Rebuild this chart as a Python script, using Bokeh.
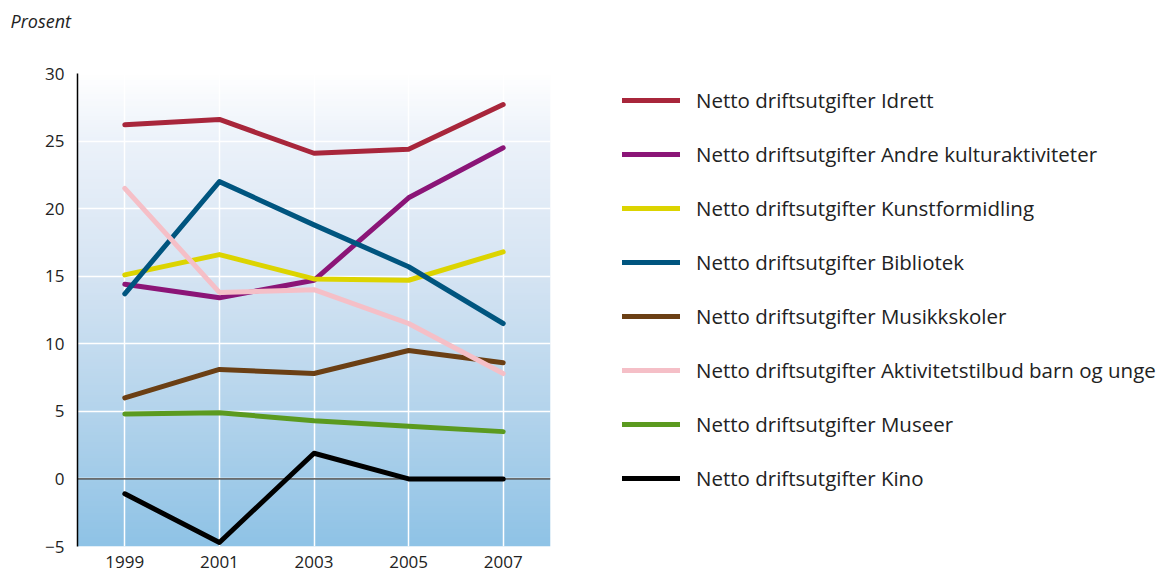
import numpy as np
from bokeh.plotting import figure
from bokeh.models import Legend, LegendItem, Span, Label, FixedTicker
from bokeh.embed import file_html
from bokeh.resources import INLINE

years = [1999, 2001, 2003, 2005, 2007]
idrett = [26.2, 26.6, 24.1, 24.4, 27.7]
andre = [14.4, 13.4, 14.7, 20.8, 24.5]
kunst = [15.1, 16.6, 14.8, 14.7, 16.8]
bibliotek = [13.7, 22.0, 18.8, 15.7, 11.5]
musikk = [6.0, 8.1, 7.8, 9.5, 8.6]
aktivitet = [21.5, 13.8, 14.0, 11.5, 7.8]
museer = [4.8, 4.9, 4.3, 3.9, 3.5]
kino = [-1.1, -4.7, 1.9, 0.0, 0.0]

labels = [
    "Netto driftsutgifter Idrett",
    "Netto driftsutgifter Andre kulturaktiviteter",
    "Netto driftsutgifter Kunstformidling",
    "Netto driftsutgifter Bibliotek",
    "Netto driftsutgifter Musikkskoler",
    "Netto driftsutgifter Aktivitetstilbud barn og unge",
    "Netto driftsutgifter Museer",
    "Netto driftsutgifter Kino",
]
series = [idrett, andre, kunst, bibliotek, musikk, aktivitet, museer, kino]
colors = ["#a8263b", "#8b1577", "#dcd400", "#00557f", "#6b3f14", "#f5bfc7", "#5b9a1f", "#000000"]
y_ticks = [-5, 0, 5, 10, 15, 20, 25, 30]
x_ticks = [1999, 2001, 2003, 2005, 2007]

FONT = "Open Sans"

p = figure(frame_width=473, frame_height=473, x_range=(1998, 2008), y_range=(-5, 30),
           output_backend="svg", toolbar_location=None,
           min_border_left=77, min_border_top=73, min_border_right=0, min_border_bottom=27)
p.outline_line_color = None
p.background_fill_color = "white"
p.border_fill_color = "white"

# vertical gradient background
n = 200
stops_v = [30, 25, 15, 5, -5]
stops_c = [(255, 255, 255), (236, 242, 250), (213, 228, 243), (180, 212, 236), (143, 195, 230)]
vals = np.linspace(-5, 30, n)
img = np.zeros((n, 1), dtype=np.uint32)
view = img.view(dtype=np.uint8).reshape((n, 1, 4))
for ch in range(3):
    view[:, 0, ch] = np.interp(vals, stops_v[::-1], [c[ch] for c in stops_c[::-1]])
view[:, 0, 3] = 255
bg = p.image_rgba(image=[img], x=1998, y=-5, dw=10, dh=35)
bg.level = "image"

p.xgrid.ticker = FixedTicker(ticks=x_ticks)
p.ygrid.ticker = FixedTicker(ticks=y_ticks)
p.grid.grid_line_color = "white"
p.grid.grid_line_width = 1.5
p.grid.grid_line_alpha = 1

p.xaxis.ticker = FixedTicker(ticks=x_ticks)
p.yaxis.ticker = FixedTicker(ticks=y_ticks)
p.xaxis.axis_line_color = None
p.yaxis.axis_line_color = "black"
p.yaxis.axis_line_width = 1.5
for ax in (p.xaxis, p.yaxis):
    ax.major_tick_line_color = None
    ax.minor_tick_line_color = None
    ax.major_label_text_font = FONT
    ax.major_label_text_font_size = "17px"
    ax.major_label_text_color = "#222222"
p.xaxis.major_label_standoff = 3
p.yaxis.major_label_standoff = 7

zero = Span(location=0, dimension="width", line_color="black", line_width=1)
zero.level = "underlay"
p.add_layout(zero)

items = []
for vals_s, col, lab in zip(series, colors, labels):
    r = p.line(years, vals_s, line_color=col, line_width=5, line_cap="round", line_join="round")
    items.append(LegendItem(label=lab, renderers=[r]))

legend = Legend(items=items, location=(72, 54), orientation="vertical",
                glyph_width=58, glyph_height=28, label_height=28, spacing=26,
                label_standoff=16, padding=0, margin=0,
                border_line_color=None, background_fill_alpha=0,
                label_text_font=FONT, label_text_font_size="20.5px", label_text_color="#222222")
p.add_layout(legend, "right")

title = Label(x=-67, y=53, x_units="screen", y_units="screen", text="Prosent",
              text_font=FONT, text_font_style="italic", text_font_size="18px",
              text_color="#222222", text_baseline="middle", text_align="left")
p.add_layout(title, "above")

open("out.html", "w").write(file_html(p, INLINE))
